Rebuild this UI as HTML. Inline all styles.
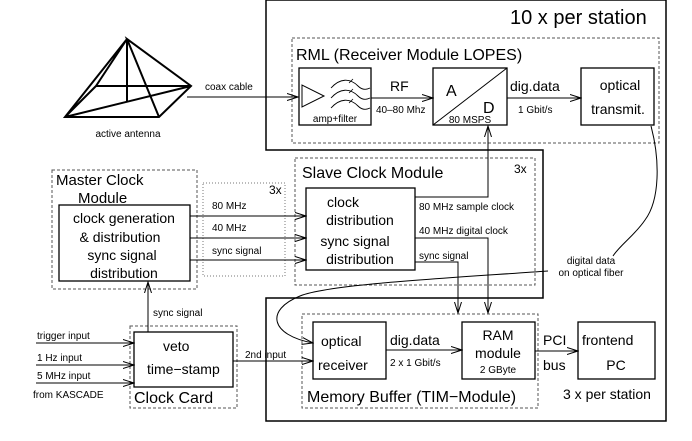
<!DOCTYPE html>
<html><head><meta charset="utf-8"><style>
html,body{margin:0;padding:0;background:#fff;}
svg{display:block;font-family:"Liberation Sans",sans-serif;}
</style></head><body>
<svg width="692" height="441" viewBox="0 0 692 441" xmlns="http://www.w3.org/2000/svg">
<defs>
<marker id="a" markerWidth="12" markerHeight="10" refX="11" refY="5" orient="auto" markerUnits="userSpaceOnUse">
<path d="M0,1.5 L11,5 L0,8.5" fill="none" stroke="#000" stroke-width="1"/>
</marker>
</defs>
<g fill="none" stroke="#000">
<path d="M266,0 L666,0 L666,421 L266,421 L266,298 L543,298 L543,150 L266,150 Z" stroke-width="1.5"/>
<g stroke="#555" stroke-dasharray="3,2" stroke-width="1">
<rect x="292" y="38" width="367" height="105"/>
<rect x="52" y="170" width="145" height="119"/>
<rect x="295" y="158" width="240" height="127"/>
<rect x="130" y="326" width="107" height="82"/>
<rect x="302" y="314" width="236" height="94"/>
</g>
<rect x="203" y="183" width="82" height="93" stroke="#777" stroke-dasharray="1,2" stroke-width="1"/>
<g stroke-width="1.3">
<rect x="299" y="68" width="72" height="57"/>
<rect x="433" y="68" width="74" height="57"/>
<rect x="581" y="68" width="73" height="57"/>
<rect x="59" y="205" width="131" height="76"/>
<rect x="306" y="188" width="109" height="82"/>
<rect x="134" y="332" width="99" height="55"/>
<rect x="313" y="322" width="73" height="57"/>
<rect x="462" y="322" width="73" height="57"/>
<rect x="578" y="322" width="77" height="57"/>
</g>
<line x1="433" y1="125" x2="507" y2="68"/>
<path d="M302,85 L302,107 L324,96 Z"/>
<path d="M331,88 C340,78 350,78 358,86 C362,90 366,90 370,88 M331,98 C340,88 350,88 358,96 C362,100 366,100 370,98 M331,108 C340,98 350,98 358,106 C362,110 366,110 370,108" stroke-width="0.9"/>
<path d="M349,83 l4,-4 M349,93 l4,-4 M349,103 l4,-4" stroke-width="0.8"/>
<g stroke-width="2">
<path d="M127,39 L65,117 L159,117 L191,86 L127,39 L159,117 M127,39 L96,86 L191,86 L65,117 M127,39 L127,101 M96,86 L65,117"/>
</g>
<g stroke-width="1" marker-end="url(#a)">
<line x1="187" y1="97" x2="298" y2="97"/>
<line x1="371" y1="98" x2="433" y2="98"/>
<line x1="507" y1="98" x2="581" y2="98"/>
<line x1="190" y1="216" x2="306" y2="216"/>
<line x1="190" y1="238" x2="306" y2="238"/>
<line x1="190" y1="260" x2="306" y2="260"/>
<polyline points="415,197 488,197 488,126"/>
<polyline points="415,238 488,238 488,313"/>
<polyline points="415,262 458,262 458,313"/>
<line x1="148" y1="332" x2="148" y2="282"/>
<line x1="36" y1="343" x2="134" y2="343"/>
<line x1="36" y1="365" x2="134" y2="365"/>
<line x1="36" y1="383" x2="134" y2="383"/>
<line x1="233" y1="361" x2="313" y2="361"/>
<line x1="386" y1="350" x2="462" y2="350"/>
<line x1="535" y1="351" x2="578" y2="351"/>
<path d="M548,271 C450,278 330,284 300,296 C265,310 270,335 313,343"/>
</g>
<path d="M651,126 C660,160 660,200 645,220 C635,235 620,245 613,256" stroke-width="1"/>
</g>
<g fill="#000">
<text x="510" y="24" font-size="20">10 x per station</text>
<text x="296" y="60" font-size="16">RML (Receiver Module LOPES)</text>
<text x="335" y="122" font-size="10" text-anchor="middle">amp+filter</text>
<text x="390" y="91" font-size="14">RF</text>
<text x="376" y="113" font-size="10">40–80 Mhz</text>
<text x="446" y="96" font-size="16">A</text>
<text x="483" y="113" font-size="16">D</text>
<text x="470" y="123" font-size="10" text-anchor="middle">80 MSPS</text>
<text x="510" y="91" font-size="14">dig.data</text>
<text x="518" y="113" font-size="10">1 Gbit/s</text>
<text x="620" y="90" font-size="14" text-anchor="middle">optical</text>
<text x="618" y="114" font-size="14" text-anchor="middle">transmit.</text>
<text x="205" y="90" font-size="10">coax cable</text>
<text x="128" y="137" font-size="10" text-anchor="middle">active antenna</text>
<text x="56" y="185" font-size="15">Master Clock</text>
<text x="78" y="203" font-size="15">Module</text>
<g font-size="14" text-anchor="middle">
<text x="124" y="223">clock generation</text>
<text x="120" y="242">&amp; distribution</text>
<text x="122" y="260">sync signal</text>
<text x="124" y="278">distribution</text>
<text x="343" y="207">clock</text>
<text x="360" y="225">distribution</text>
<text x="355" y="246">sync signal</text>
<text x="360" y="264">distribution</text>
</g>
<text x="269" y="194" font-size="12">3x</text>
<text x="212" y="209" font-size="10">80 MHz</text>
<text x="212" y="231" font-size="10">40 MHz</text>
<text x="212" y="254" font-size="10">sync signal</text>
<text x="302" y="178" font-size="16">Slave Clock Module</text>
<text x="514" y="173" font-size="12">3x</text>
<text x="419" y="210" font-size="10">80 MHz sample clock</text>
<text x="419" y="234" font-size="10">40 MHz digital clock</text>
<text x="419" y="259" font-size="10">sync signal</text>
<text x="591" y="264" font-size="10" text-anchor="middle">digital data</text>
<text x="591" y="276" font-size="10" text-anchor="middle">on optical fiber</text>
<text x="153" y="316" font-size="10">sync signal</text>
<text x="37" y="339" font-size="10">trigger input</text>
<text x="37" y="361" font-size="10">1 Hz input</text>
<text x="37" y="379" font-size="10">5 MHz input</text>
<text x="33" y="398" font-size="10">from KASCADE</text>
<text x="163" y="351" font-size="14">veto</text>
<text x="147" y="374" font-size="14">time−stamp</text>
<text x="134" y="403" font-size="16">Clock Card</text>
<text x="245" y="358" font-size="10">2nd input</text>
<text x="307" y="402" font-size="16">Memory Buffer (TIM−Module)</text>
<text x="321" y="346" font-size="14">optical</text>
<text x="318" y="370" font-size="14">receiver</text>
<text x="390" y="345" font-size="14">dig.data</text>
<text x="390" y="366" font-size="10">2 x 1 Gbit/s</text>
<text x="498" y="340" font-size="14" text-anchor="middle">RAM</text>
<text x="498" y="358" font-size="14" text-anchor="middle">module</text>
<text x="498" y="373" font-size="10" text-anchor="middle">2 GByte</text>
<text x="543" y="345" font-size="14">PCI</text>
<text x="543" y="370" font-size="14">bus</text>
<text x="582" y="345" font-size="14">frontend</text>
<text x="616" y="370" font-size="14" text-anchor="middle">PC</text>
<text x="563" y="399" font-size="14">3 x per station</text>
</g>
</svg>
</body></html>
